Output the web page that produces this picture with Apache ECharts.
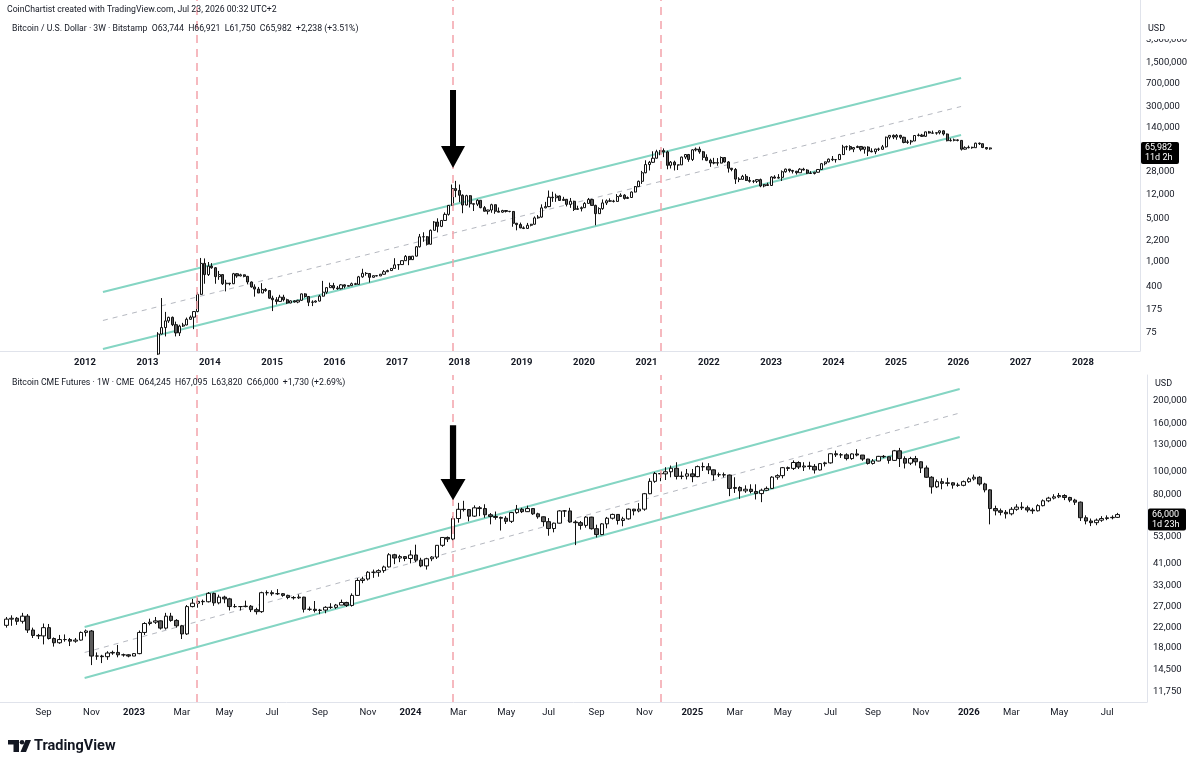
<!DOCTYPE html>
<html><head><meta charset="utf-8">
<script src="https://cdn.jsdelivr.net/npm/echarts@6/dist/echarts.min.js"></script>
<style>html,body{margin:0;padding:0;background:#fff;}#chart{width:1200px;height:761px;}</style>
</head><body><div id="chart"></div>
<script>
// ---------------- DATA ----------------
const titleText = 'CoinChartist created with TradingView.com, Jul 23, 2026 00:32 UTC+2';
const topHeaderText = 'Bitcoin / U.S. Dollar · 3W · Bitstamp  O63,744  H66,921  L61,750  C65,982  +2,238 (+3.51%)';
const bottomHeaderText = 'Bitcoin CME Futures · 1W · CME  O64,245  H67,095  L63,820  C66,000  +1,730 (+2.69%)';

// Top pane: 3-week candles, Bitstamp BTC/USD
const topStart = '2012-12-31';
const topStepDays = 21;
const topFirstOpen = 13.4;
const topClose = [15.6,24,34,71,90,115,131,100,74,95,
 99,122,132,162,305,950,630,860,810,585,
 630,450,460,450,650,600,625,590,480,400,
 370,320,365,350,265,250,235,275,250,222,
 240,230,245,310,282,228,230,238,285,330,
 390,420,385,375,432,410,420,450,440,580,
 660,655,570,605,600,638,700,730,790,900,
 910,1050,1230,1090,1240,1750,2520,2530,1920,3200,
 4340,3700,4600,5750,8000,14800,13800,11600,8100,11400,
 8500,8350,9650,7350,6450,6750,8200,6450,6240,6620,
 6420,6400,4150,3950,3500,3430,3850,4000,5050,5200,
 7300,7650,10800,10600,11300,9600,10000,8300,9300,6900,
 7100,7350,8600,9900,8000,5900,7100,8750,9450,9350,
 9250,11100,11650,10320,10680,13050,15950,19350,26500,35800,
 38900,45200,57400,59800,57000,34800,39100,35300,35400,47100,
 51800,43200,61500,63200,57300,46700,41800,37900,38400,37800,
 46400,39400,31300,29900,21000,20800,23200,20000,19400,19400,
 20600,16300,17100,16600,22700,21800,22400,27500,30300,28800,
 28000,26500,30200,29300,26100,25800,27000,29900,37000,39500,
 43700,42800,43000,51700,68400,69300,63100,66900,69600,62700,
 68100,58700,57300,63300,62800,68700,97900,104500,98300,104700,
 97500,80700,82400,85100,104100,105700,101000,119000,114200,113500,
 115400,123500,110000,86000,87500,88500,87000,63000,66500,67500,
 66500,78500,77000,67000,63744,65982];
const topHigh = [17,25,35,76,266,160,134,135,112,100,
 107,130,140,165,330,1160,1140,1000,960,830,
 720,640,520,460,670,665,650,630,600,490,
 440,400,460,385,355,290,275,300,300,260,
 245,245,250,315,318,285,245,245,300,500,
 395,468,465,415,445,440,425,470,465,600,
 780,690,665,610,615,645,745,755,800,1150,
 920,1060,1290,1245,1250,1800,2800,2980,2600,3300,
 4480,4980,4650,6180,8100,17200,19666,17200,12000,11800,
 11700,8500,9980,9650,7800,6800,8500,8250,7400,6800,
 6700,6500,6450,4200,4250,3700,4200,4050,5330,5600,
 8300,9100,13800,13200,12300,11500,10950,10100,10500,9500,
 7900,7700,9000,10500,10200,8200,7450,9950,9950,10350,
 9800,12100,12450,12050,11100,13350,16300,19900,28400,41900,
 40900,58300,61700,61200,64800,59600,40800,41300,35500,48100,
 51900,52900,62900,67000,69000,59200,52100,44400,45800,45400,
 48200,47000,40800,31400,31500,22500,24500,25200,22700,20300,
 21000,21400,17500,18400,23300,24200,25200,28900,30900,30500,
 29500,28400,31400,31800,30200,28100,27400,30200,38000,39900,
 44700,49000,43600,53000,73800,71800,72800,67700,72000,70000,
 68300,70000,65100,64000,66500,73600,99800,104600,108300,109600,
 106500,99500,88800,88500,105000,112000,110500,119500,123200,124500,
 116400,125500,126200,112000,94000,93000,90500,87500,70000,72000,
 69000,80000,80500,77500,68000,66921];
const topLow = [13.2,15.5,23,33,70,65,107,95,65,66,
 92,98,120,85,158,300,450,600,780,450,
 520,430,340,425,445,560,590,570,440,390,
 280,320,320,335,260,165,210,230,235,215,
 220,226,220,240,270,198,198,225,235,280,
 310,385,360,360,365,380,410,415,430,435,
 560,605,470,565,590,596,630,690,720,790,
 750,900,1040,890,1080,1230,1700,2100,1830,1900,
 3200,2970,3600,4550,5500,7900,10800,9000,6000,8000,
 7400,6500,7800,7200,6400,5750,6100,5880,6220,6100,
 6160,6200,3650,3200,3450,3350,3380,3700,3950,4900,
 5100,7200,7500,9100,9100,9400,9600,7700,7300,6500,
 6800,6400,7350,8550,7900,3850,5850,6800,8100,9100,
 8900,9150,11000,9900,10150,10500,12900,15800,17600,26000,
 28800,37900,44900,50400,47000,30100,31000,28800,29300,35400,
 43900,39600,40800,58000,53300,42000,40600,32900,36200,34300,
 37500,38600,26700,28000,17600,18800,20800,19600,18500,18100,
 18200,15600,15500,16300,16500,21400,21400,19600,26600,26900,
 25800,24800,26500,28900,25300,25400,24900,26600,29800,34800,
 38800,40700,38500,42500,50900,60800,59600,56500,66100,58400,
 53500,49000,56100,52500,58900,62000,66800,90700,91200,89200,
 91200,78200,76600,74500,85000,100700,99000,99700,112000,111700,
 107300,108700,104000,84000,83500,84000,84000,60000,62000,65000,
 64000,66000,73500,65500,62000,61750];

// Bottom pane: weekly candles, CME Bitcoin futures
const bottomStart = '2022-07-18';
const bottomStepDays = 7;
const bottomFirstOpen = 22400;
const bottomClose = [23800,24000,23300,24500,21400,20300,20200,21900,19700,18900,
 19500,19500,19200,19400,20900,21200,16600,16600,16500,17100,
 17200,16800,16800,16600,17000,20900,22800,23100,23400,21800,
 24500,23500,22300,20600,26900,27800,28300,28200,30600,27900,
 29500,29000,26900,26900,26900,27000,26100,25600,30800,30800,
 30500,30500,30000,29400,29300,29500,26200,26200,25900,26000,
 26700,26700,27300,28000,27200,30000,34700,35200,37600,37600,
 38200,39600,44600,43200,43800,43000,44500,42300,40000,42900,
 43600,48900,52800,52000,63500,69500,69300,65000,70500,70000,
 65900,64800,64200,63700,61800,67300,69500,67900,70000,66500,
 64600,61600,57600,60700,68400,68400,61400,61000,59400,64400,
 57500,54300,60300,63700,66100,62300,63300,69600,68400,69600,
 80900,91300,98500,98200,100200,103700,95800,96000,98200,95600,
 105400,105300,102100,97300,97400,97100,85200,86000,83200,84500,
 82700,81000,83700,85200,95100,96500,104300,103600,109700,105000,
 106000,105600,102000,108500,109300,119500,118300,118200,114000,119300,
 118000,113500,108700,111300,116500,116000,112000,123000,114000,109000,
 114000,110500,104000,95000,86500,91000,89500,90000,88000,87800,
 91000,93500,95000,89000,84000,70000,68500,67500,66500,69500,
 71000,70500,69000,68500,72000,75500,77500,78500,79500,78000,
 76000,74500,64000,62000,61000,62500,63500,64000,64245,66000];
const bottomHigh = [24300,24700,24300,25300,25000,21900,20600,22800,22700,19900,
 20400,20500,19800,19800,21100,21500,21400,17200,16800,17400,
 17500,18500,17000,16900,17100,21300,23100,23900,24300,23500,
 25300,25300,23800,22500,27300,29000,29200,28800,31000,30800,
 30200,29900,29300,27600,27000,28500,27300,26600,31100,31500,
 31500,31900,30700,30200,29800,30300,29600,26900,28400,26300,
 27000,27800,27600,28800,28200,30600,35500,36000,38000,38600,
 38700,40100,45300,45000,44600,44000,46600,49200,43300,43300,
 44000,49000,53000,53300,65000,74000,75500,69700,72200,71700,
 73000,67000,68000,64700,65000,67700,72500,70500,72000,70200,
 67200,64800,63800,61000,68900,69000,70500,62500,62000,65000,
 64600,59800,60700,64500,66600,66200,64600,70000,69800,73800,
 81500,94000,100000,99500,104800,106500,110000,100500,103000,103000,
 106500,109700,109000,102500,99500,99500,97500,95000,87000,87800,
 88700,88700,85000,86800,96000,97800,105000,105500,112000,111000,
 110000,110500,108000,108800,110500,119800,123200,120300,120000,120000,
 125000,118000,113700,113500,117000,118000,116500,124000,126500,116500,
 116000,117000,111000,106500,96000,93000,94000,94500,90500,90000,
 92000,95000,97500,96000,90000,84500,72000,70000,69000,71000,
 73000,74500,72000,70500,73000,76500,78500,80500,81500,80500,
 78500,77000,75000,65500,63500,63500,65000,65500,65500,67095];
const bottomLow = [21900,22300,22500,22800,20800,19800,19600,18600,19500,18200,
 18700,19100,18300,18900,19300,20100,15200,16000,15500,16000,
 16800,16400,16500,16400,16600,16900,20400,22400,22700,21500,
 21500,23200,21900,19600,20400,26700,26600,27300,28000,27100,
 27500,27800,25900,26600,25900,26700,25500,24900,25300,30000,
 29900,30100,29600,28900,28800,29000,25400,25800,25400,25000,
 25200,26300,26300,27300,26800,26900,29900,33800,34700,35600,
 36000,37400,39400,40700,41500,41900,41000,41500,39500,38600,
 41900,42800,48200,50500,51200,61000,68000,61800,64500,65000,
 64000,60000,62800,56500,60200,60800,66500,67000,67700,65800,
 63400,58800,53700,55500,60500,64500,61000,49000,57000,58100,
 57000,52800,54000,57700,62900,59900,58900,62800,65500,67500,
 68500,80500,90000,91400,92500,95000,93000,93200,93000,90500,
 95000,101000,98000,92000,95200,94800,79000,81500,77000,81600,
 81200,76500,74500,83000,85000,92800,94000,101000,102000,103000,
 101000,102500,98500,101500,105500,108500,115800,114700,112000,112700,
 116500,111500,107500,107500,111000,114500,108500,111500,105000,103500,
 107000,106500,99000,94500,81000,85500,84500,87000,85000,86500,
 87000,90000,92000,87500,82000,60000,65500,65500,63500,65500,
 68500,69000,67500,66500,68000,71500,74500,76500,77500,76000,
 74500,72500,62000,60000,59000,59500,61500,62500,63000,63820];

// Axis ticks
const topYearTicks = [2012,2013,2014,2015,2016,2017,2018,2019,2020,2021,2022,2023,2024,2025,2026,2027,2028];
const topPriceTicks = [75,175,400,1000,2200,5000,12000,28000,140000,300000,700000,1500000,3500000];
const bottomPriceTicks = [11750,14500,18000,22000,27000,33000,41000,53000,80000,100000,130000,160000,200000];
const bottomTickDates = ['2022-09-05','2022-11-07','2023-01-02','2023-03-06','2023-05-01','2023-07-03','2023-09-04','2023-11-06','2024-01-01','2024-03-04','2024-05-06','2024-07-01','2024-09-02','2024-11-04','2025-01-06','2025-03-03','2025-05-05','2025-07-07','2025-09-01','2025-11-03','2026-01-05','2026-03-02','2026-05-04','2026-07-06'];
const bottomTickLabels = ['Sep','Nov','2023','Mar','May','Jul','Sep','Nov','2024','Mar','May','Jul','Sep','Nov','2025','Mar','May','Jul','Sep','Nov','2026','Mar','May','Jul'];

// Drawings (data coordinates: date, price)
const topChannelUpper = [['2012-04-15', 332], ['2026-01-17', 860000]];
const topChannelMid   = [['2012-04-15', 116.8], ['2026-01-17', 302000]];
const topChannelLower = [['2012-04-15', 41], ['2026-01-17', 106000]];
const bottomChannelUpper = [['2022-10-29', 22040], ['2025-12-24', 224700]];
const bottomChannelMid   = [['2022-10-29', 17190], ['2025-12-24', 177800]];
const bottomChannelLower = [['2022-10-29', 13400], ['2025-12-24', 140700]];
const topVLineDates = ['2013-10-17', '2017-11-25', '2021-03-26'];
const bottomVLineDates = ['2023-03-26', '2024-02-26', '2024-11-25'];
const topArrowTip = ['2017-11-25', 31500];
const bottomArrowTip = ['2024-02-26', 76000];
const topCountdown = '11d 2h';
const bottomCountdown = '1d 23h';

// ---------------- BUILD ----------------
const DAY = 864e5;
const parse = s => { const p = s.split('-').map(Number); return Date.UTC(p[0], p[1]-1, p[2]); };
const L = Math.log10;
function candles(start, step, firstOpen, close, high, low) {
  const t0 = parse(start);
  return close.map((c, i) => [t0 + i*step*DAY, L(i ? close[i-1] : firstOpen), L(c), L(low[i]), L(high[i])]);
}
const seg = arr => arr.map(p => [parse(p[0]), L(p[1])]);
const fmtPrice = v => Math.round(Math.pow(10, v)).toLocaleString('en-US');
const FONT = 'Roboto, "Noto Sans", sans-serif';
const TXT = '#131722';

// axis ranges (layout)
const T2012 = Date.UTC(2012,0,1), YR = 365.25*DAY;
const topXMin = T2012 - (85/62.375)*YR, topXMax = T2012 + (1055/62.375)*YR;
const TB = Date.UTC(2023,0,2), PXD = 0.7596;
const botXMin = TB - (134/PXD)*DAY, botXMax = TB + (1013/PXD)*DAY;
const topYMin = 3 - 89/62.7, topYMax = 3 + 262/62.7;
const botYMin = 5 - 230/236, botYMax = 5 + 97/236;

const bottomTickTimes = bottomTickDates.map(parse);
const candleStyle = {color:'#ffffff', color0:'#5b5b5b', borderColor:'#111111', borderColor0:'#111111', borderWidth:1};
const vLineStyle = {color:'#f4a2ab', width:1.5, type:[8,6]};
const chLine = {color:'#84d5c3', width:2};
const midLine = {color:'#b5b8c0', width:1, type:[5,5]};
const arrowPath = 'path://M9,0L15,0L15,56L24,56L12,78L0,56L9,56Z';

function lineSeries(xi, pts, style) {
  return {type:'line', xAxisIndex:xi, yAxisIndex:xi, data:seg(pts), showSymbol:false, symbol:'none',
    silent:true, lineStyle:style, z:2, animation:false};
}

const chart = echarts.init(document.getElementById('chart'), null, {renderer:'canvas'});
const option = {
  animation:false,
  backgroundColor:'#ffffff',
  grid:[
    {left:0, top:0, width:1140, height:351},
    {left:0, top:375, width:1147, height:327}
  ],
  xAxis:[
    {type:'value', gridIndex:0, min:topXMin, max:topXMax,
     axisLine:{show:true, lineStyle:{color:'#e0e3eb'}}, axisTick:{show:false}, splitLine:{show:false},
     axisLabel:{customValues: topYearTicks.map(y => Date.UTC(y,0,1)), formatter: v => String(new Date(v).getUTCFullYear()),
       color:TXT, fontWeight:'bold', fontSize:9.5, fontFamily:FONT, margin:7}},
    {type:'value', gridIndex:1, min:botXMin, max:botXMax,
     axisLine:{show:true, lineStyle:{color:'#e0e3eb'}}, axisTick:{show:false}, splitLine:{show:false},
     axisLabel:{customValues: bottomTickTimes,
       formatter: v => { let k = 0, d = Infinity; bottomTickTimes.forEach((t,i)=>{ if (Math.abs(t-v) < d) { d = Math.abs(t-v); k = i; } });
         const s = bottomTickLabels[k]; return /^\d{4}$/.test(s) ? '{b|' + s + '}' : s; },
       color:TXT, fontSize:9.5, fontFamily:FONT, margin:6,
       rich:{b:{fontWeight:'bold', fontSize:9.5, fontFamily:FONT, color:TXT}}}}
  ],
  yAxis:[
    {type:'value', gridIndex:0, position:'right', min:topYMin, max:topYMax,
     axisLine:{show:true, lineStyle:{color:'#e0e3eb'}}, axisTick:{show:false}, splitLine:{show:false},
     axisLabel:{customValues: topPriceTicks.map(L), formatter: fmtPrice, color:TXT, fontSize:9.5, fontFamily:FONT, margin:6}},
    {type:'value', gridIndex:1, position:'right', min:botYMin, max:botYMax,
     axisLine:{show:true, lineStyle:{color:'#e0e3eb'}}, axisTick:{show:false}, splitLine:{show:false},
     axisLabel:{customValues: bottomPriceTicks.map(L), formatter: fmtPrice, color:TXT, fontSize:9.5, fontFamily:FONT, margin:6}}
  ],
  series:[
    lineSeries(0, topChannelUpper, chLine),
    lineSeries(0, topChannelLower, chLine),
    lineSeries(0, topChannelMid, midLine),
    {type:'candlestick', xAxisIndex:0, yAxisIndex:0, data:candles(topStart, topStepDays, topFirstOpen, topClose, topHigh, topLow),
     barWidth:2.6, itemStyle:candleStyle, z:4, clip:true, silent:true,
     markLine:{silent:true, symbol:['none','none'], label:{show:false}, lineStyle:vLineStyle, animation:false,
       data: topVLineDates.map(d => ({xAxis: parse(d)}))},
     markPoint:{silent:true, symbol:arrowPath, symbolSize:[24,78], symbolOffset:[0,'-50%'], itemStyle:{color:'#000'}, label:{show:false},
       data:[{coord:[parse(topArrowTip[0]), L(topArrowTip[1])]}]}},
    lineSeries(1, bottomChannelUpper, chLine),
    lineSeries(1, bottomChannelLower, chLine),
    lineSeries(1, bottomChannelMid, midLine),
    {type:'candlestick', xAxisIndex:1, yAxisIndex:1, data:candles(bottomStart, bottomStepDays, bottomFirstOpen, bottomClose, bottomHigh, bottomLow),
     barWidth:4, itemStyle:candleStyle, z:4, clip:true, silent:true,
     markLine:{silent:true, symbol:['none','none'], label:{show:false}, lineStyle:vLineStyle, animation:false,
       data: bottomVLineDates.map(d => ({xAxis: parse(d)}))},
     markPoint:{silent:true, symbol:arrowPath, symbolSize:[25,75], symbolOffset:[0,'-50%'], itemStyle:{color:'#000'}, label:{show:false},
       data:[{coord:[parse(bottomArrowTip[0]), L(bottomArrowTip[1])]}]}}
  ]
};
chart.setOption(option);

// ---------------- overlays (texts, price tags, logo) ----------------
const yTop = chart.convertToPixel({yAxisIndex:0}, L(topClose[topClose.length-1]));
const yBot = chart.convertToPixel({yAxisIndex:1}, L(bottomClose[bottomClose.length-1]));
const txt = (x, y, text, font, fill, extra) => Object.assign({type:'text', z:100, style:{x, y, text, font, fill: fill || TXT, align:'left', verticalAlign:'middle'}}, extra || {});
const g = [
  txt(7, 10, titleText, '8.7px ' + FONT),
  txt(12, 29, topHeaderText, '8.7px ' + FONT),
  txt(12, 383, bottomHeaderText, '8.7px ' + FONT),
  {type:'rect', z:99, shape:{x:1141, y:18, width:58, height:21}, style:{fill:'#ffffff'}},
  txt(1148, 29, 'USD', '9px ' + FONT),
  txt(1155, 384, 'USD', '9px ' + FONT),
  {type:'rect', z:100, shape:{x:1141, y:yTop-6, width:38, height:22, r:2}, style:{fill:'#000000'}},
  txt(1145, yTop, fmtPrice(L(topClose[topClose.length-1])), '9px ' + FONT, '#ffffff', {z:101}),
  txt(1145, yTop+10, topCountdown, '9px ' + FONT, '#ffffff', {z:101}),
  {type:'rect', z:100, shape:{x:1148, y:yBot-6, width:38, height:22, r:2}, style:{fill:'#000000'}},
  txt(1152, yBot, fmtPrice(L(bottomClose[bottomClose.length-1])), '9px ' + FONT, '#ffffff', {z:101}),
  txt(1152, yBot+10, bottomCountdown, '9px ' + FONT, '#ffffff', {z:101}),
  // TradingView logo
  {type:'rect', z:100, shape:{x:8, y:740, width:11, height:4.5}, style:{fill:'#131722'}},
  {type:'rect', z:100, shape:{x:13.5, y:740, width:5.5, height:12}, style:{fill:'#131722'}},
  {type:'circle', z:100, shape:{cx:22, cy:742.3, r:2.3}, style:{fill:'#131722'}},
  {type:'polygon', z:100, shape:{points:[[25.5,740],[31,740],[26,752],[20.5,752]]}, style:{fill:'#131722'}},
  txt(34, 746, 'TradingView', 'bold 14.5px ' + FONT)
];
chart.setOption({graphic: g});
</script>
</body></html>
